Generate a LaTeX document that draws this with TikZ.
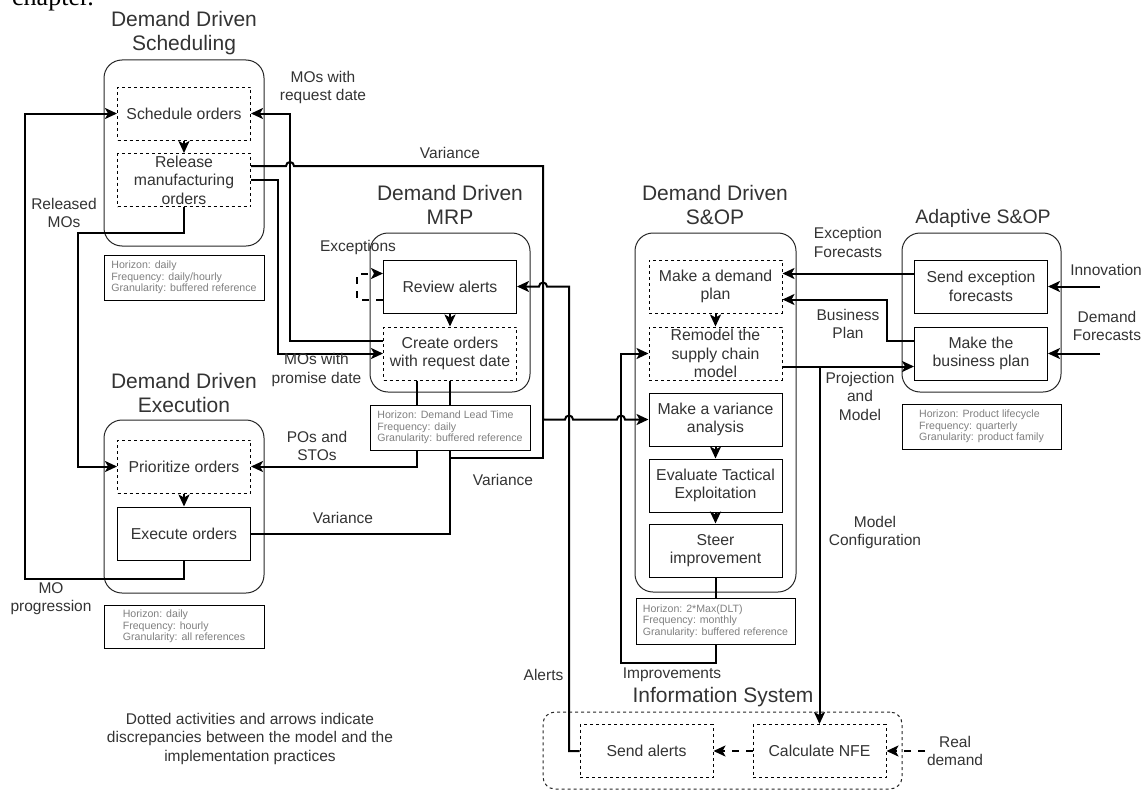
\documentclass[tikz,border=0pt]{standalone}
\usepackage{fontspec}
\setmainfont{Liberation Sans}
\newfontfamily\pageserif{Liberation Serif}
\usetikzlibrary{arrows.meta}
\definecolor{txt}{HTML}{333333}
\definecolor{infotxt}{HTML}{808080}

\begin{document}
\begin{tikzpicture}[x=1pt,y=-1pt,
	act/.style={draw, fill=white, line width=1pt, minimum width=133pt, minimum height=53pt, inner sep=0pt, align=center, text=txt, font=\fontsize{15.8}{18.5}\selectfont},
	dact/.style={act, dash pattern=on 3pt off 3pt},
	grp/.style={draw, line width=1pt, rounded corners=18pt, draw=black!85},
	info/.style={draw, fill=white, line width=1pt, inner sep=0pt, align=left, text=infotxt, font=\fontsize{10.6}{11.3}\selectfont},
	ttl/.style={align=center, text=txt, font=\fontsize{21}{24}\selectfont},
	lbl/.style={align=center, text=txt, font=\fontsize{15.5}{18.5}\selectfont},
	link/.style={line width=2pt},
	conn/.style={line width=2pt, -{Stealth[length=12pt,width=11pt,inset=3pt]}},
	dconn/.style={conn, dash pattern=on 7pt off 7pt}]
	\useasboundingbox (0,0) rectangle (1148,792);
	\node[anchor=base west, inner sep=0pt, font=\pageserif\fontsize{26}{30}\selectfont] (chap) at (12,5.5) {chapter.};

	% groups
	\node[grp, minimum width=160pt, minimum height=186pt] (schedgrp) at (184,153) {};
	\node[grp, minimum width=160pt, minimum height=173pt] (execgrp) at (184,506.5) {};
	\node[grp, minimum width=160pt, minimum height=159pt] (mrpgrp) at (450,312.5) {};
	\node[grp, minimum width=161pt, minimum height=359pt] (sopgrp) at (715.5,412.5) {};
	\node[grp, minimum width=159pt, minimum height=159pt] (adgrp) at (981.5,312.5) {};
	\node[grp, minimum width=359pt, minimum height=77pt, rounded corners=12pt, dash pattern=on 3pt off 3pt] (isgrp) at (722.5,750.5) {};

	\node[ttl] (schedttl) at (184,33) {Demand Driven\\Scheduling};
	\node[ttl] (execttl) at (184,393) {Demand Driven\\Execution};
	\node[ttl] (mrpttl) at (450,204.5) {Demand Driven\\MRP};
	\node[ttl] (sopttl) at (715,204.5) {Demand Driven\\S\&OP};
	\node[ttl, font=\fontsize{19.5}{24}\selectfont] (adttl) at (983,218) {Adaptive S\&OP};
	\node[ttl] (isttl) at (723,697) {Information System};

	% activities
	\node[dact] (sched) at (184,113.5) {Schedule orders};
	\node[dact] (release) at (184,180) {Release\\manufacturing\\orders};
	\node[dact] (prio) at (184,466.5) {Prioritize orders};
	\node[act] (exec) at (184,533.5) {Execute orders};
	\node[act] (review) at (450,286.5) {Review alerts};
	\node[dact] (create) at (450,353.5) {Create orders\\with request date};
	\node[dact] (dplan) at (715.5,286.5) {Make a demand\\plan};
	\node[dact] (remodel) at (715.5,353.5) {Remodel the\\supply chain\\model};
	\node[act] (varan) at (715.5,419.5) {Make a variance\\analysis};
	\node[act] (evalt) at (715.5,485.5) {Evaluate Tactical\\Exploitation};
	\node[act] (steer) at (715.5,550.5) {Steer\\improvement};
	\node[act] (sendex) at (981,286.5) {Send exception\\forecasts};
	\node[act] (bizplan) at (981,353.5) {Make the\\business plan};
	\node[dact] (sendal) at (646.5,751) {Send alerts};
	\node[dact] (nfe) at (819.5,751) {Calculate NFE};

	\coordinate (split) at (819.5,366.5);
	\coordinate (innov) at (1100,286.5);
	\coordinate (dfc) at (1100,353.5);
	\coordinate (realdem) at (925,751);

	\foreach \a/\b in {sched/release, prio/exec, review/create, dplan/remodel, varan/evalt, evalt/steer}
		\draw[conn] (\a) -- (\b);

	% connectors
	\draw[conn] (exec.south) -- ++(0,18) -| (25,113.5) -- (sched.west);
	\draw[conn] (release.south) -- ++(0,26) -| (78,466.5) -- (prio.west);
	\draw[conn] ([yshift=13pt]create.west) -| (290,113.5) -- (sched.east);
	\draw[conn] (release.east) -- ++(27,0) |- (create.west);
	\draw[conn] ([yshift=14pt]release.east) -- (286,166) arc[start angle=180,end angle=0,radius=4pt] -- (543,166) -- (543,419.5)
		-- (565,419.5) arc[start angle=180,end angle=0,radius=4pt] -- (617,419.5) arc[start angle=180,end angle=0,radius=4pt] -- (varan.west);
	\draw[link] (create.south) |- (exec.east);
	\draw[link] (450,458) -| (543,419.5);
	\draw[conn] ([xshift=-33pt]create.south) |- (prio.east);
	\draw[dconn] ([yshift=-13pt]review.west) -- ++(-26,0) |- ([yshift=13pt]review.west);
	\draw[conn] (sendal.west) -| (569,286.5) -- (547,286.5) arc[start angle=0,end angle=180,radius=4pt] -- (review.east);
	\draw[conn] (steer.south) -- ++(0,85) -| (621,353.5) -- (remodel.west);
	\draw[conn] ([yshift=-13pt]remodel.east) -- ([yshift=-13pt]bizplan.west);
	\draw[conn] (split) -- (nfe.north);
	\draw[conn] ([yshift=13pt]sendex.west) -- ([yshift=13pt]dplan.east);
	\draw[conn] ([yshift=13pt]bizplan.west) -- (887,340.5) |- ([yshift=-13pt]dplan.east);
	\draw[conn] (innov) -- (sendex.east);
	\draw[conn] (dfc) -- (bizplan.east);
	\draw[dconn] (nfe.west) -- (sendal.east);
	\draw[dconn] (realdem) -- (nfe.east);

	% info boxes
	\node[info, minimum width=160pt, minimum height=45pt] (schedinfo) at (184,277.5) {Horizon: daily\\Frequency: daily/hourly\\Granularity: buffered reference};
	\node[info, minimum width=160pt, minimum height=43pt] (execinfo) at (184,626.5) {Horizon: daily\\Frequency: hourly\\Granularity: all references};
	\node[info, minimum width=160pt, minimum height=45pt] (mrpinfo) at (450,427.5) {Horizon: Demand Lead Time\\Frequency: daily\\Granularity: buffered reference};
	\node[info, minimum width=159pt, minimum height=46pt] (sopinfo) at (715.5,621) {Horizon: 2*Max(DLT)\\Frequency: monthly\\Granularity: buffered reference};
	\node[info, minimum width=159pt, minimum height=45pt] (adinfo) at (981.5,426.5) {Horizon: Product lifecycle\\Frequency: quarterly\\Granularity: product family};

	% labels
	\node[lbl] (lreq) at (323,87.5) {MOs with\\request date};
	\node[lbl] (lprom) at (316.5,370) {MOs with\\promise date};
	\node[lbl] (lrel) at (64,213) {Released\\MOs};
	\node[lbl] (lprog) at (51,598.5) {MO\\progression};
	\node[lbl] (lpos) at (317,446) {POs and\\STOs};
	\node[lbl] (lvar1) at (450,153) {Variance};
	\node[lbl] (lvar2) at (503,480) {Variance};
	\node[lbl] (lvar3) at (343,518) {Variance};
	\node[lbl] (lexc) at (358,247) {Exceptions};
	\node[lbl] (lalert) at (543.5,675) {Alerts};
	\node[lbl] (limpr) at (672,675) {Improvements};
	\node[lbl] (lexf) at (848,242.5) {Exception\\Forecasts};
	\node[lbl] (lbiz) at (848,324) {Business\\Plan};
	\node[lbl] (lproj) at (860,396) {Projection\\and\\Model};
	\node[lbl] (lmodel) at (875,532.5) {Model\\Configuration};
	\node[lbl] (linnov) at (1106,270) {Innovation};
	\node[lbl] (ldfc) at (1107,326) {Demand\\Forecasts};
	\node[lbl] (lreal) at (955,751) {Real\\demand};
	\node[lbl] (note) at (250,738.5) {Dotted activities and arrows indicate\\discrepancies between the model and the\\implementation practices};
\end{tikzpicture}
\end{document}
